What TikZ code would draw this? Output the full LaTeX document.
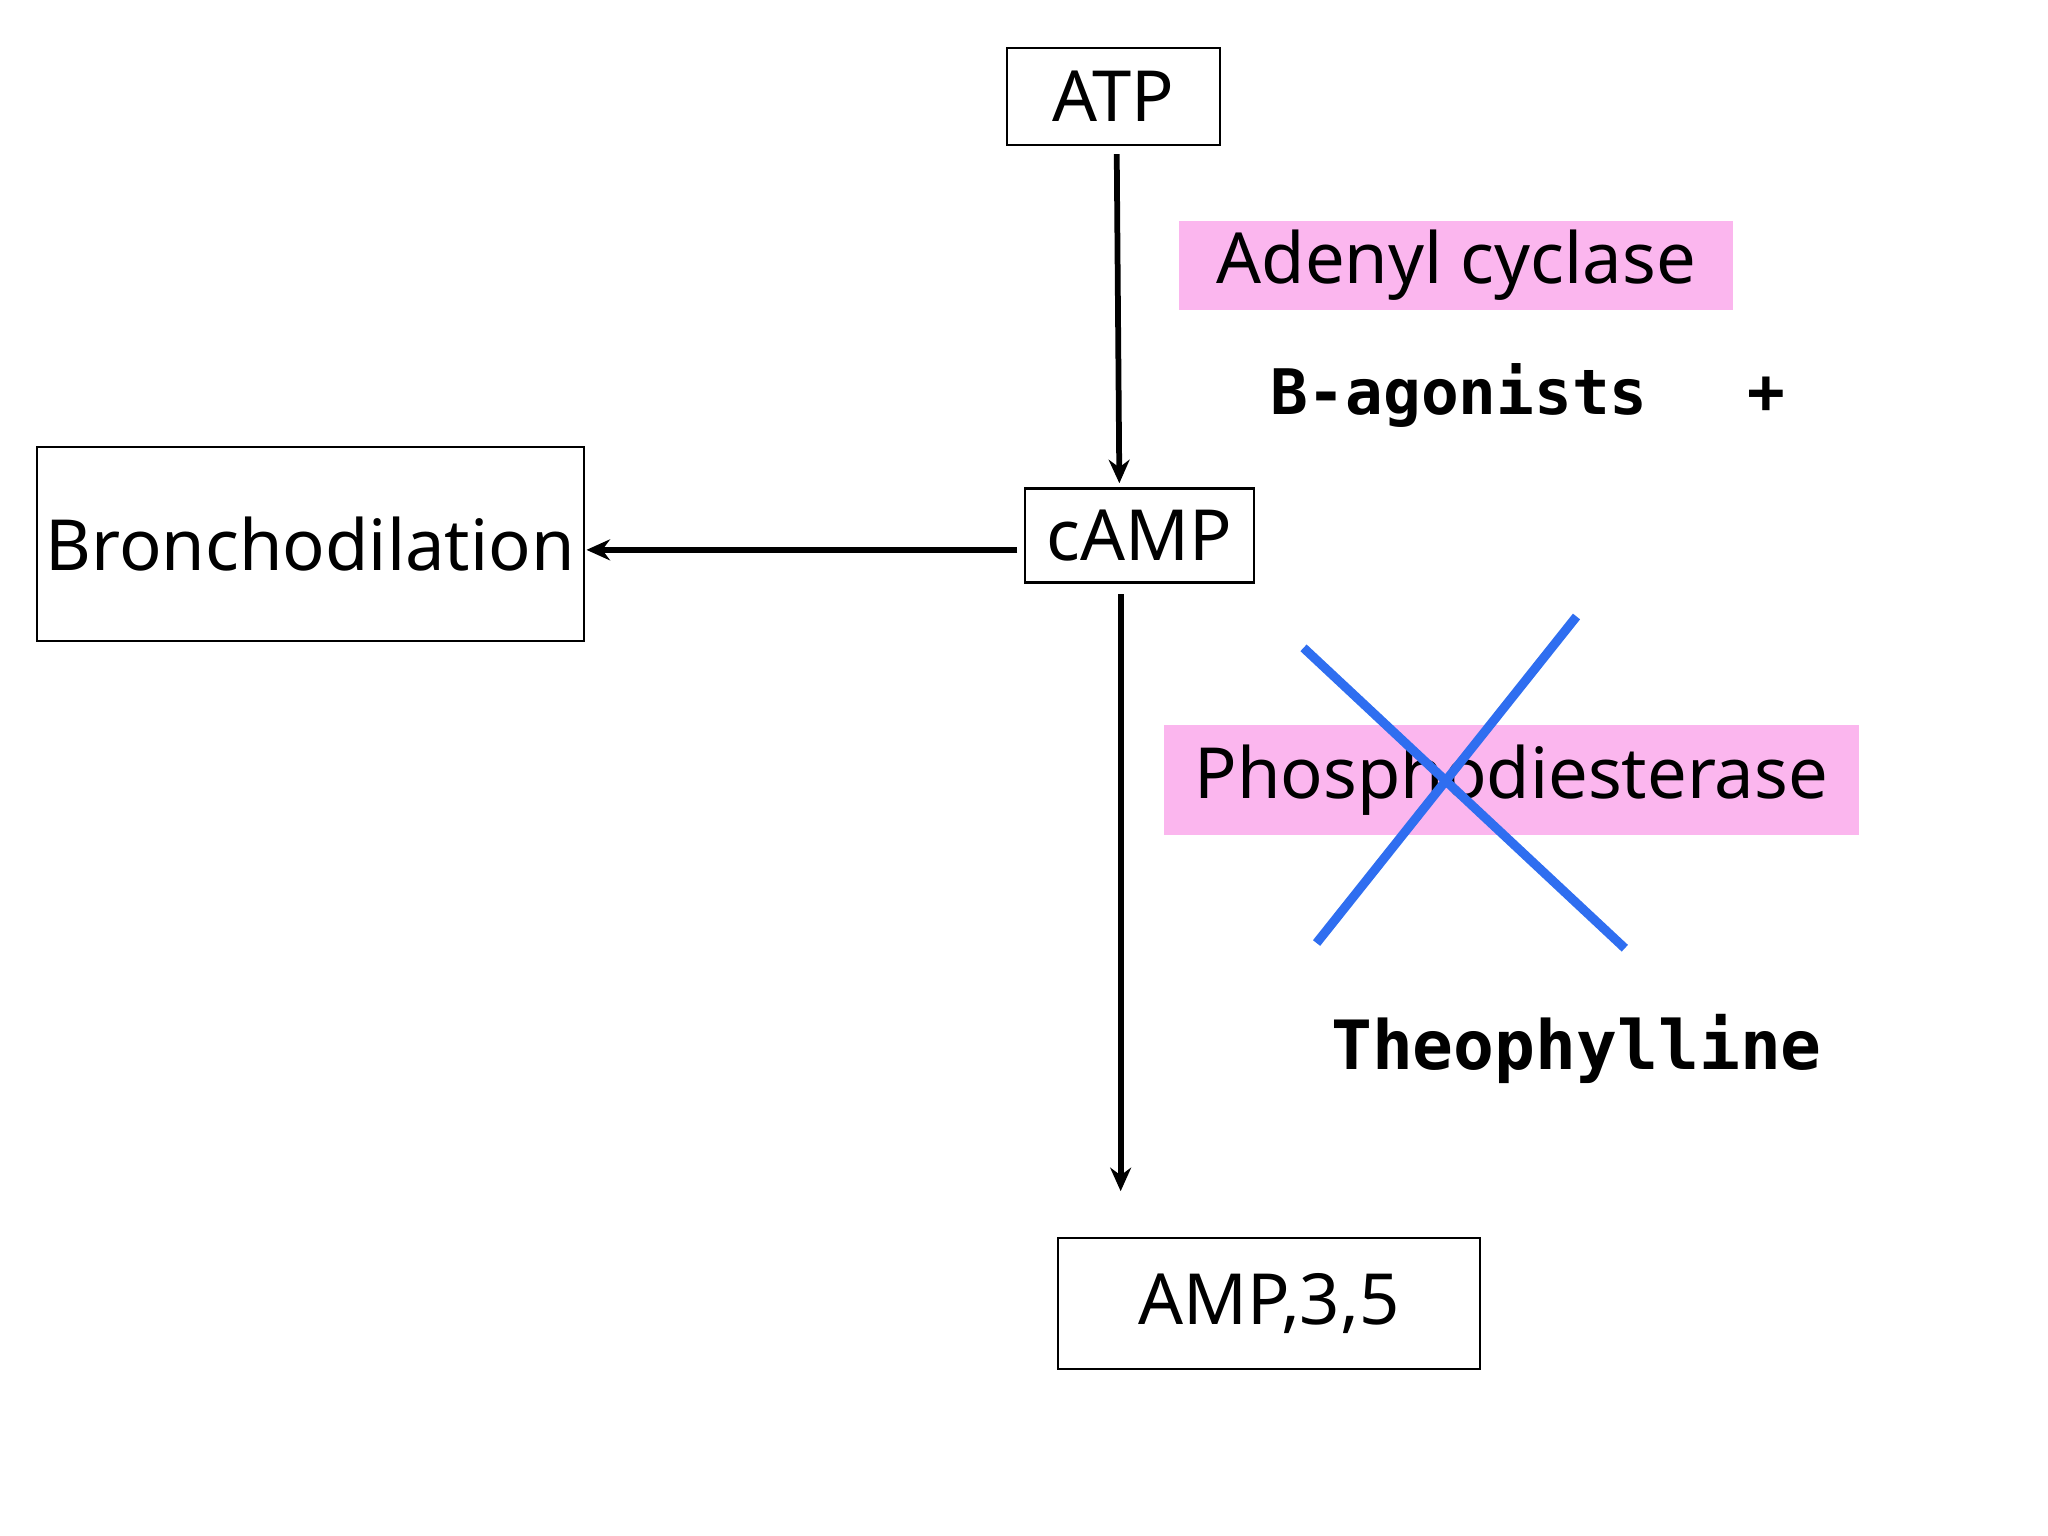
\documentclass[tikz,border=0pt]{standalone}
\usepackage{fontspec}
\setmainfont{Noto Sans}
\newfontfamily\monob{DejaVu Sans Mono}
\usetikzlibrary{arrows.meta}
\definecolor{pinkbg}{HTML}{FBB6EE}
\definecolor{xblue}{HTML}{2F6EF0}
\begin{document}
\begin{tikzpicture}[x=0.5pt,y=-0.5pt,
  box/.style={draw,line width=0.8pt,inner sep=0pt,font=\fontsize{27}{30}\selectfont\bfseries},
  hl/.style={fill=pinkbg,inner sep=0pt,font=\fontsize{27}{30}\selectfont\bfseries},
  mono/.style={inner sep=0pt,font=\monob\bfseries},
  arr/.style={line width=2.2pt,-{Stealth[length=9pt,width=8pt]}},
  cross/.style={xblue,line width=3.5pt}]
\useasboundingbox (0,0) rectangle (1568,1176);
\node[box,minimum width=81.5pt,minimum height=37pt] (atp) at (852.5,74) {ATP};
\node[box,minimum width=87.5pt,minimum height=36pt] (camp) at (872.5,410) {cAMP};
\node[box,minimum width=209.5pt,minimum height=74.5pt] (bron) at (237.5,416.5) {Bronchodilation};
\node[box,minimum width=161.5pt,minimum height=50pt] (amp) at (971.5,998) {AMP,3,5};
\node[hl,minimum width=212pt,minimum height=34pt] (ac) at (1115,203) {Adenyl cyclase};
\node[hl,minimum width=266pt,minimum height=42pt] (pde) at (1157,597) {Phosphodiesterase};
\node[mono,font=\monob\bfseries\fontsize{24}{28}\selectfont] (bag) at (1117,303) {B-agonists};
\node[mono,font=\monob\bfseries\fontsize{24}{28}\selectfont] (plus) at (1352,303) {+};
\node[mono,font=\monob\bfseries\fontsize{26}{30}\selectfont] (theo) at (1207,803) {Theophylline};
\coordinate (a1) at (855,118); \coordinate (a2) at (857,370);
\coordinate (b1) at (779,421); \coordinate (b2) at (449,421);
\coordinate (c1) at (858,455); \coordinate (c2) at (858,912);
\draw[arr] (a1) -- (a2);
\draw[arr] (b1) -- (b2);
\draw[arr] (c1) -- (c2);
\coordinate (x1) at (998,496); \coordinate (x2) at (1244,726);
\coordinate (x3) at (1207,472); \coordinate (x4) at (1008,722);
\draw[cross] (x1) -- (x2);
\draw[cross] (x3) -- (x4);
\end{tikzpicture}
\end{document}
